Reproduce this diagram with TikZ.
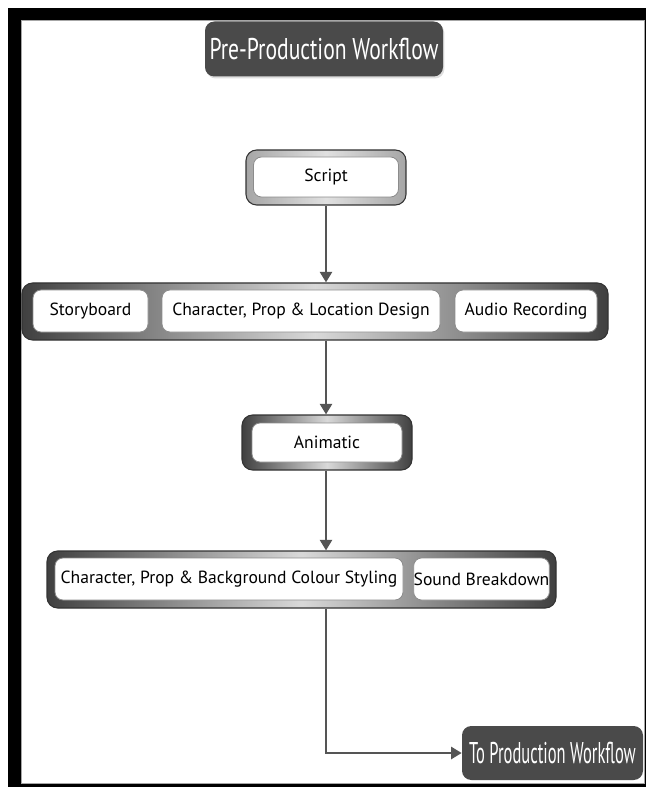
\documentclass[tikz,border=0pt]{standalone}
\usepackage{fontspec}
\setmainfont{PT Sans}
\newfontfamily\condfont[FakeStretch=0.72]{PT Sans}
\newfontfamily\narrowfont[FakeStretch=0.55]{PT Sans}
\usepackage{tikz}
\usetikzlibrary{arrows.meta, shadows}

\definecolor{darkbox}{HTML}{4A4A4A}
\definecolor{flowline}{HTML}{555555}

\tikzset{
	inbox/.style={draw=black!45, fill=white, rounded corners=6pt, line width=0.6pt, font=\fontsize{13.2}{15}\selectfont, inner sep=0pt},
	frame/.style={draw=black!80, rounded corners=8pt, line width=0.8pt, left color=black!75, right color=black!75, middle color=black!15, inner sep=0pt},
	headbox/.style={fill=darkbox, rounded corners=7pt, text=white, font=\condfont\fontsize{22.5}{25}\selectfont, inner sep=0pt},
	flow/.style={draw=flowline, line width=2.2pt, -{Triangle[width=9pt,length=8pt]}}
}

\begin{document}
\begin{tikzpicture}[x=0.75pt, y=-0.75pt]
		\useasboundingbox (0,0) rectangle (646,787);
		% page frame
		\fill[black] (8,8) rectangle (646,787);
		\fill[white] (21,21) rectangle (644,783);
		\draw[black!35, line width=0.75pt] (21,21) rectangle (644,783);
		
		\node[headbox, minimum width=178.5pt, minimum height=41.25pt, drop shadow={opacity=0.25, shadow xshift=1pt, shadow yshift=-1.5pt}] (head) at (324,49) {Pre-Production Workflow};
		
		% script
		\node[frame, minimum width=120pt, minimum height=41.25pt, left color=black!35, right color=black!35, middle color=black!12] (script) at (326,177.5) {};
		\node[inbox, minimum width=108.75pt, minimum height=30pt] (scriptin) at (326,177) {Script};
		
		% first row
		\node[frame, minimum width=439.5pt, minimum height=42.75pt] (row1) at (315,311.5) {};
		\node[inbox, minimum width=86.25pt, minimum height=31.5pt] (story) at (90.5,311) {Storyboard};
		\node[inbox, minimum width=208.5pt, minimum height=31.5pt] (design) at (301,311) {Character, Prop \& Location Design};
		\node[inbox, minimum width=106.5pt, minimum height=31.5pt] (audio) at (526,311) {Audio Recording};
		
		% animatic
		\node[frame, minimum width=127.5pt, minimum height=41.25pt] (anim) at (327,442.5) {};
		\node[inbox, minimum width=112.5pt, minimum height=29.25pt] (animin) at (327,442.5) {Animatic};
		
		% second row
		\node[frame, minimum width=381.75pt, minimum height=42.75pt] (row2) at (301.5,579.5) {};
		\node[inbox, minimum width=261pt, minimum height=31.5pt] (styling) at (229,579) {Character, Prop \& Background Colour Styling};
		\node[inbox, minimum width=99.75pt, minimum height=31.5pt] (sound) at (481.5,579) {Sound Breakdown};
		
		\node[headbox, minimum width=135.75pt, minimum height=40.5pt, font=\narrowfont\fontsize{22.5}{25}\selectfont] (prod) at (552.5,753) {To Production Workflow};
		
		\draw[flow] (script.south) -- (script.south |- row1.north);
		\draw[flow] (script.south |- row1.south) -- (script.south |- anim.north);
		\draw[flow] (script.south |- anim.south) -- (script.south |- row2.north);
		\draw[flow] (script.south |- row2.south) |- (prod.west);
		
		\end{tikzpicture}
\end{document}
